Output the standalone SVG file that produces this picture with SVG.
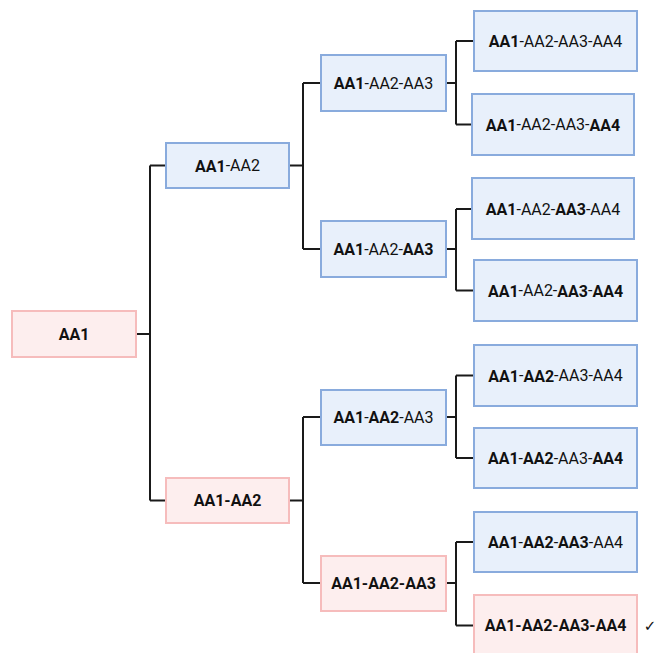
<svg xmlns="http://www.w3.org/2000/svg" width="659" height="653" viewBox="0 0 659 653">
<style>
.b{fill:#e8f0fb;stroke:#89abdd;stroke-width:2}
.p{fill:#fdeeee;stroke:#f6bcbc;stroke-width:2}
text{font-family:Roboto,"Liberation Sans",sans-serif;font-size:16px;fill:#111;text-anchor:middle;dominant-baseline:central}
.k{font-weight:bold}
.c{fill:none;stroke:#1a1a1a;stroke-width:2}
</style>
<rect width="659" height="653" fill="#fff"/>
<g id="connectors" class="c">
<path d="M136 334H150M150 165.5V500.5M150 165.5H166M150 500.5H166"/>
<path d="M289 165.5H303M303 83V249M303 83H321M303 249H321"/>
<path d="M289 500.5H303M303 417V583M303 417H321M303 583H321"/>
<path d="M446 83H456M456 41V124.5M456 41H474M456 124.5H472"/>
<path d="M446 249H456M456 209V290.5M456 209H472M456 290.5H474"/>
<path d="M446 417H456M456 375.5V458M456 375.5H474M456 458H474"/>
<path d="M446 583H456M456 542V625.5M456 542H474M456 625.5H474"/>
</g>
<g id="n1"><rect class="p" x="12" y="311" width="124" height="46"/><text x="74" y="334" class="k">AA1</text></g>
<g id="n2"><rect class="b" x="166" y="143" width="123" height="45"/><text x="227.5" y="165.5"><tspan class="k">AA1</tspan>-AA2</text></g>
<g id="n3"><rect class="p" x="166" y="478" width="123" height="45"/><text x="227.5" y="500.5" class="k">AA1-AA2</text></g>
<g id="n4"><rect class="b" x="321" y="55" width="125" height="56"/><text x="383.5" y="83"><tspan class="k">AA1</tspan>-AA2-AA3</text></g>
<g id="n5"><rect class="b" x="321" y="221" width="125" height="56"/><text x="383.5" y="249"><tspan class="k">AA1</tspan>-AA2-<tspan class="k">AA3</tspan></text></g>
<g id="n6"><rect class="b" x="321" y="390" width="125" height="55"/><text x="383.5" y="417"><tspan class="k">AA1</tspan>-<tspan class="k">AA2</tspan>-AA3</text></g>
<g id="n7"><rect class="p" x="321" y="556" width="125" height="55"/><text x="383.5" y="583" class="k">AA1-AA2-AA3</text></g>
<g id="n8"><rect class="b" x="474" y="11" width="163" height="60"/><text x="555.5" y="41"><tspan class="k">AA1</tspan>-AA2-AA3-AA4</text></g>
<g id="n9"><rect class="b" x="472" y="94" width="162" height="61"/><text x="553" y="124.5"><tspan class="k">AA1</tspan>-AA2-AA3-<tspan class="k">AA4</tspan></text></g>
<g id="n10"><rect class="b" x="472" y="178" width="162" height="61"/><text x="553" y="209"><tspan class="k">AA1</tspan>-AA2-<tspan class="k">AA3</tspan>-AA4</text></g>
<g id="n11"><rect class="b" x="474" y="260" width="163" height="61"/><text x="555.5" y="290.5"><tspan class="k">AA1</tspan>-AA2-<tspan class="k">AA3</tspan>-<tspan class="k">AA4</tspan></text></g>
<g id="n12"><rect class="b" x="474" y="345" width="163" height="61"/><text x="555.5" y="375.5"><tspan class="k">AA1</tspan>-<tspan class="k">AA2</tspan>-AA3-AA4</text></g>
<g id="n13"><rect class="b" x="474" y="428" width="163" height="60"/><text x="555.5" y="458"><tspan class="k">AA1</tspan>-<tspan class="k">AA2</tspan>-AA3-<tspan class="k">AA4</tspan></text></g>
<g id="n14"><rect class="b" x="474" y="512" width="163" height="60"/><text x="555.5" y="542"><tspan class="k">AA1</tspan>-<tspan class="k">AA2</tspan>-<tspan class="k">AA3</tspan>-AA4</text></g>
<g id="n15"><rect class="p" x="474" y="595" width="163" height="61"/><text x="555.5" y="625.5" class="k">AA1-AA2-AA3-AA4</text></g>
<text x="650" y="626" style="font-family:'DejaVu Sans',sans-serif;font-size:15px;font-weight:bold">✓</text>
</svg>
